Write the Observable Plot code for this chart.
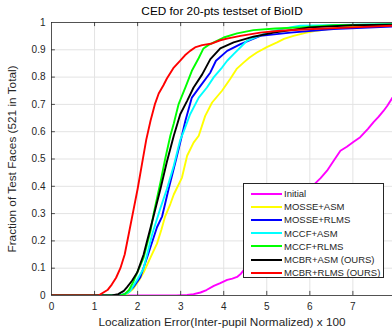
<!DOCTYPE html>
<html>
<head>
<meta charset="utf-8">
<script src="https://cdn.jsdelivr.net/npm/d3@7"></script>
<script src="https://cdn.jsdelivr.net/npm/@observablehq/plot@0.6"></script>
<style>
  body { margin: 0; background: #fff; font-family: "Liberation Sans", Arial, sans-serif; }
  #wrap { position: relative; width: 392px; height: 332px; }
  #legend { position: absolute; left: 243px; top: 183px; width: 141px; height: 95px;
            border: 1px solid #262626; background: #fff; box-sizing: border-box; }
  .row { position: absolute; left: 0; height: 13px; width: 100%; }
  .sw { position: absolute; left: 7px; width: 31px; height: 2px; top: 5.5px; }
  .lb { position: absolute; left: 40px; top: 0; font-size: 9.5px; line-height: 13px; color: #262626; white-space: nowrap; }
</style>
</head>
<body>
<div id="wrap"></div>
<script>
const title = "CED for 20-pts testset of BioID";
const xLabel = "Localization Error(Inter-pupil Normalized) x 100";
const yLabel = "Fraction of Test Faces (521 in Total)";
const xTicks = [0, 1, 2, 3, 4, 5, 6, 7];
const yTicks = [0, 0.1, 0.2, 0.3, 0.4, 0.5, 0.6, 0.7, 0.8, 0.9, 1];

const seriesNames = ["Initial", "MOSSE+ASM", "MOSSE+RLMS", "MCCF+ASM", "MCCF+RLMS", "MCBR+ASM (OURS)", "MCBR+RLMS (OURS)"];
const seriesColors = ["#ff00ff", "#ffff00", "#0000ff", "#00ffff", "#00ff00", "#000000", "#ff0000"];

const initial = [[0,0],[2.9,0],[3.15,0.002],[3.3,0.005],[3.46,0.011],[3.6,0.02],[3.77,0.035],[3.92,0.045],[4.08,0.057],[4.2,0.062],[4.31,0.068],[4.4,0.08],[4.46,0.092],[6.09,0.405],[6.25,0.43],[6.4,0.457],[6.55,0.493],[6.71,0.53],[6.86,0.545],[7.01,0.562],[7.17,0.58],[7.35,0.61],[7.48,0.635],[7.6,0.655],[7.71,0.676],[7.8,0.695],[7.92,0.725]];
const mosseAsm = [[0,0],[1.6,0],[1.75,0.005],[1.9,0.025],[2.05,0.06],[2.14,0.085],[2.3,0.14],[2.45,0.19],[2.55,0.24],[2.64,0.29],[2.76,0.335],[2.84,0.37],[3.03,0.432],[3.15,0.512],[3.3,0.56],[3.42,0.585],[3.57,0.658],[3.73,0.707],[3.96,0.75],[4.15,0.793],[4.3,0.83],[4.46,0.853],[4.6,0.872],[4.77,0.89],[5.0,0.91],[5.24,0.927],[5.4,0.94],[5.62,0.951],[5.9,0.962],[6.16,0.97],[6.5,0.978],[7.0,0.986],[7.92,0.99]];
const mosseRlms = [[0,0],[1.5,0],[1.65,0.003],[1.76,0.01],[1.9,0.03],[2.06,0.066],[2.22,0.139],[2.45,0.25],[2.57,0.29],[2.72,0.39],[2.88,0.49],[2.99,0.56],[3.11,0.64],[3.26,0.725],[3.46,0.768],[3.69,0.817],[3.82,0.86],[4.08,0.896],[4.39,0.921],[4.85,0.951],[5.55,0.963],[6.55,0.976],[7.92,0.985]];
const mccfAsm = [[0,0],[1.6,0],[1.75,0.008],[1.83,0.017],[2.0,0.06],[2.14,0.1],[2.34,0.225],[2.53,0.32],[2.68,0.39],[2.84,0.475],[2.99,0.57],[3.07,0.6],[3.22,0.664],[3.42,0.725],[3.61,0.762],[3.77,0.8],[3.96,0.835],[4.08,0.86],[4.23,0.884],[4.54,0.933],[5.0,0.963],[5.4,0.978],[5.78,0.988],[7.92,0.995]];
const mccfRlms = [[0,0],[1.6,0],[1.7,0.005],[1.8,0.02],[1.9,0.05],[1.99,0.084],[2.14,0.139],[2.3,0.237],[2.37,0.298],[2.53,0.414],[2.64,0.5],[2.76,0.585],[2.84,0.63],[2.95,0.7],[3.11,0.762],[3.26,0.823],[3.42,0.87],[3.53,0.905],[3.65,0.918],[3.77,0.927],[4.0,0.945],[4.31,0.96],[4.69,0.972],[5.2,0.978],[5.78,0.982],[6.55,0.99],[7.92,0.993]];
const mcbrAsm = [[0,0],[1.4,0],[1.55,0.005],[1.68,0.017],[1.75,0.03],[1.87,0.054],[1.99,0.084],[2.14,0.15],[2.22,0.2],[2.37,0.29],[2.53,0.39],[2.68,0.49],[2.84,0.585],[2.99,0.664],[3.15,0.713],[3.3,0.762],[3.5,0.81],[3.69,0.866],[3.92,0.905],[4.23,0.927],[4.69,0.948],[5.16,0.963],[6.0,0.982],[7.0,0.99],[7.92,0.992]];
const mcbrRlms = [[0,0],[1.09,0],[1.3,0.02],[1.4,0.04],[1.5,0.065],[1.6,0.1],[1.7,0.15],[1.8,0.23],[1.9,0.31],[2.0,0.39],[2.1,0.48],[2.2,0.57],[2.3,0.64],[2.4,0.7],[2.49,0.74],[2.6,0.77],[2.68,0.795],[2.84,0.835],[2.99,0.86],[3.1,0.88],[3.22,0.896],[3.35,0.91],[3.5,0.917],[3.7,0.922],[3.92,0.935],[4.1,0.942],[4.39,0.951],[4.85,0.963],[5.3,0.97],[6.08,0.976],[7.0,0.982],[7.92,0.988]];

const allSeries = [initial, mosseAsm, mosseRlms, mccfAsm, mccfRlms, mcbrAsm, mcbrRlms];
const axisColor = "#262626";
const gridColor = "#e3e3e3";

const chart = Plot.plot({
  width: 392,
  height: 332,
  marginLeft: 51,
  marginRight: 0,
  marginTop: 22,
  marginBottom: 37,
  style: { fontFamily: "Liberation Sans, Arial, sans-serif", fontSize: "10px", color: axisColor, background: "#fff", overflow: "visible" },
  x: { domain: [0, 7.92] },
  y: { domain: [0, 1] },
  marks: [
    Plot.gridX(xTicks.filter(d => d > 0), { stroke: gridColor, strokeOpacity: 1, strokeWidth: 1 }),
    Plot.gridY(yTicks.filter(d => d > 0 && d < 1), { stroke: gridColor, strokeOpacity: 1, strokeWidth: 1 }),
    Plot.axisX(xTicks, { tickSize: 0, tickPadding: 7, label: null, tickFormat: d => String(d), fill: axisColor, fontSize: 10 }),
    Plot.axisY(yTicks, { tickSize: 0, tickPadding: 6, label: null, tickFormat: d => String(+d.toFixed(1)), fill: axisColor, fontSize: 10 }),
    ...allSeries.map((s, i) => Plot.line(s, { x: d => d[0], y: d => d[1], stroke: seriesColors[i], strokeWidth: 1.9, clip: true })),
    Plot.ruleX(xTicks.filter(d => d > 0), { y1: 0, y2: 0.015, stroke: axisColor, strokeWidth: 0.8 }),
    Plot.ruleX(xTicks.filter(d => d > 0), { y1: 0.985, y2: 1, stroke: axisColor, strokeWidth: 0.8 }),
    Plot.ruleY(yTicks.filter(d => d > 0 && d < 1), { x1: 0, x2: 0.09, stroke: axisColor, strokeWidth: 0.8 }),
    Plot.ruleY([0, 1], { stroke: axisColor, strokeWidth: 0.8 }),
    Plot.ruleX([0], { stroke: axisColor, strokeWidth: 0.8 }),
    Plot.text([title], { text: d => d, frameAnchor: "top", dy: -11, fontSize: 11.8, fill: "#000", textAnchor: "middle", lineAnchor: "middle" }),
    Plot.text([xLabel], { text: d => d, frameAnchor: "bottom", dy: 27, fontSize: 11.8, fill: axisColor, textAnchor: "middle", lineAnchor: "middle" }),
    Plot.text([yLabel], { text: d => d, frameAnchor: "left", dx: -39, rotate: -90, fontSize: 11.8, fill: axisColor, textAnchor: "middle", lineAnchor: "middle" })
  ]
});

const wrap = document.getElementById("wrap");
wrap.appendChild(chart);

const legend = document.createElement("div");
legend.id = "legend";
seriesNames.forEach((name, i) => {
  const row = document.createElement("div");
  row.className = "row";
  row.style.top = (3 + i * 13.2) + "px";
  const sw = document.createElement("div");
  sw.className = "sw";
  sw.style.background = seriesColors[i];
  const lb = document.createElement("div");
  lb.className = "lb";
  lb.textContent = name;
  row.appendChild(sw);
  row.appendChild(lb);
  legend.appendChild(row);
});
wrap.appendChild(legend);
</script>
</body>
</html>
